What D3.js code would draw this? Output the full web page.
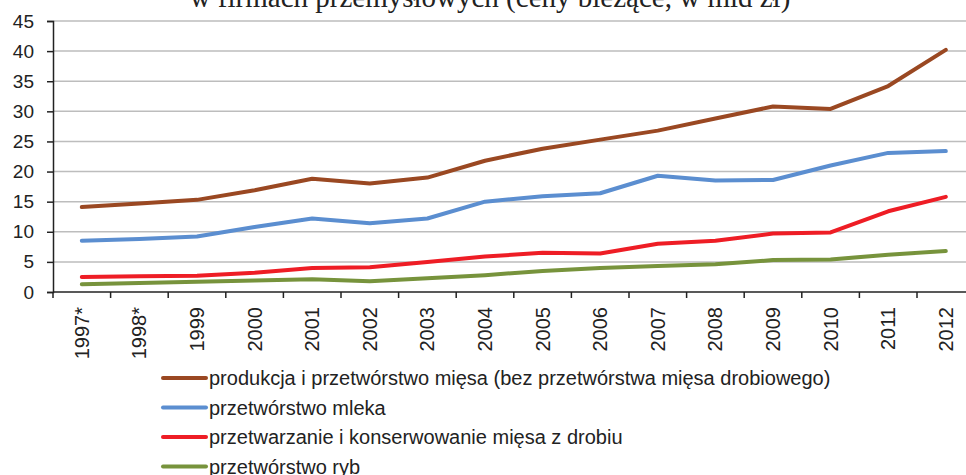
<!DOCTYPE html>
<html>
<head>
<meta charset="utf-8">
<script src="https://cdn.jsdelivr.net/npm/d3@7"></script>
<style>
  body { margin: 0; background: #fff; }
  svg { display: block; font-family: "Liberation Sans", Arial, sans-serif; }
</style>
</head>
<body>
<div id="chart"></div>
<script>
const years = ['1997*', '1998*', '1999', '2000', '2001', '2002', '2003', '2004',
    '2005', '2006', '2007', '2008', '2009', '2010', '2011', '2012'];

const mieso = [14.1, 14.7, 15.3, 16.9, 18.8, 18.0, 19.0, 21.8, 23.8, 25.3, 26.8, 28.8, 30.8, 30.4, 34.2, 40.2];
const mleko = [8.5, 8.8, 9.2, 10.8, 12.2, 11.4, 12.2, 15.0, 15.9, 16.4, 19.3, 18.5, 18.6, 21.0, 23.1, 23.4];
const drob = [2.5, 2.6, 2.7, 3.2, 4.0, 4.1, 5.0, 5.9, 6.5, 6.4, 8.0, 8.5, 9.7, 9.9, 13.4, 15.8];
const ryby = [1.3, 1.5, 1.7, 1.9, 2.1, 1.8, 2.3, 2.8, 3.5, 4.0, 4.3, 4.6, 5.3, 5.4, 6.2, 6.8];

const seriesNames = [
    'produkcja i przetwórstwo mięsa (bez przetwórstwa mięsa drobiowego)',
    'przetwórstwo mleka',
    'przetwarzanie i konserwowanie mięsa z drobiu',
    'przetwórstwo ryb'
];
const seriesColors = ['#9a4822', '#5b8ed0', '#ee1d25', '#77933c'];
const yTicks = [0, 5, 10, 15, 20, 25, 30, 35, 40, 45];
const title = 'w firmach przemysłowych (ceny bieżące, w mld zł)';

const series = [mieso, mleko, drob, ryby].map((values, i) => ({
    name: seriesNames[i], color: seriesColors[i], values
}));

const width = 966, height = 475;
const margins = { top: 21, left: 53, bottom: 292 };
const bandWidth = 57.6;

const svg = d3.select('#chart').append('svg')
    .attr('width', width)
    .attr('height', height);

// title (only its lower part is visible, like in the crop)
svg.append('text')
    .attr('x', 490)
    .attr('y', 7)
    .attr('text-anchor', 'middle')
    .style('font-family', '"Liberation Serif", "Times New Roman", serif')
    .style('font-size', '29px')
    .attr('fill', '#222')
    .text(title);

const x = d3.scaleBand()
    .domain(years)
    .range([margins.left, margins.left + bandWidth * years.length]);

const y = d3.scaleLinear()
    .domain([0, 45])
    .range([margins.bottom, margins.top]);

// gridlines
svg.append('g')
    .selectAll('line')
    .data(yTicks.filter(d => d > 0))
    .join('line')
    .attr('x1', margins.left)
    .attr('x2', width)
    .attr('y1', d => y(d))
    .attr('y2', d => y(d))
    .attr('stroke', '#bdbdbd')
    .attr('stroke-width', 1.5);

// y axis
const yAxis = svg.append('g')
    .attr('transform', `translate(${margins.left},0)`)
    .call(d3.axisLeft(y).tickValues(yTicks).tickSize(6).tickPadding(13));
yAxis.select('.domain').attr('stroke', '#222').attr('stroke-width', 1.5);
yAxis.selectAll('.tick line').attr('stroke', '#222').attr('stroke-width', 1.5);
yAxis.selectAll('text')
    .style('font-size', '19px')
    .style('font-family', '"Liberation Sans", Arial, sans-serif')
    .attr('fill', '#222');

// x axis: labels at band centres, ticks on band boundaries
const xAxis = svg.append('g')
    .attr('transform', `translate(0,${margins.bottom})`)
    .call(d3.axisBottom(x).tickSize(0).tickSizeOuter(0).tickPadding(0));
xAxis.select('.domain')
    .attr('d', `M${margins.left},0H${width}`)
    .attr('stroke', '#222').attr('stroke-width', 1.5);
xAxis.selectAll('text')
    .attr('transform', 'rotate(-90)')
    .attr('text-anchor', 'end')
    .attr('x', -15)
    .attr('y', 0)
    .attr('dy', '0.35em')
    .style('font-size', '20px')
    .style('font-family', '"Liberation Sans", Arial, sans-serif')
    .attr('fill', '#222');

xAxis.append('g')
    .selectAll('line')
    .data(years.concat(['end']))
    .join('line')
    .attr('x1', d => d === 'end' ? x.range()[1] : x(d))
    .attr('x2', d => d === 'end' ? x.range()[1] : x(d))
    .attr('y1', 0)
    .attr('y2', 6)
    .attr('stroke', '#222')
    .attr('stroke-width', 1.5);

// lines
const line = d3.line()
    .x((d, i) => x(years[i]) + x.bandwidth() / 2)
    .y(d => y(d));

svg.append('g')
    .selectAll('path')
    .data(series)
    .join('path')
    .attr('fill', 'none')
    .attr('stroke', d => d.color)
    .attr('stroke-width', 4)
    .attr('stroke-linejoin', 'round')
    .attr('stroke-linecap', 'round')
    .attr('d', d => line(d.values));

// legend
const legendRows = [378, 407.5, 437, 466.5];
const legend = svg.append('g')
    .selectAll('g')
    .data(series)
    .join('g')
    .attr('transform', (d, i) => `translate(0,${legendRows[i]})`);

legend.append('line')
    .attr('x1', 163)
    .attr('x2', 206)
    .attr('stroke', d => d.color)
    .attr('stroke-width', 4)
    .attr('stroke-linecap', 'round');

legend.append('text')
    .attr('x', 209)
    .attr('dy', '0.35em')
    .style('font-size', '20px')
    .attr('fill', '#222')
    .text(d => d.name);
</script>
</body>
</html>
